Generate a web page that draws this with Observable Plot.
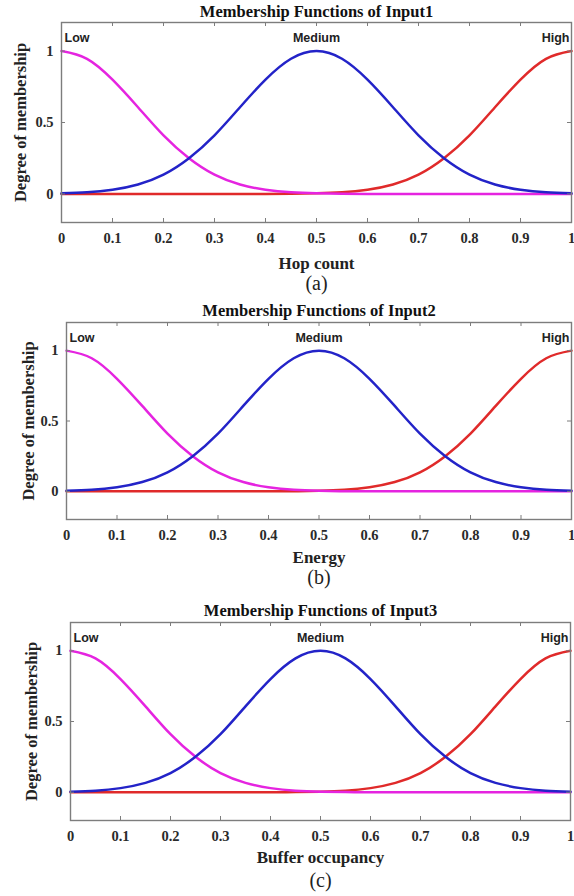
<!DOCTYPE html>
<html><head><meta charset="utf-8">
<script src="https://cdn.jsdelivr.net/npm/d3@7"></script>
<script src="https://cdn.jsdelivr.net/npm/@observablehq/plot@0.6"></script>
<style>
body{margin:0;background:#fff;width:574px;height:896px;overflow:hidden;position:relative}
.panel{position:absolute;left:0}
</style></head><body>
<script>
// ---- data ----
const xs = [0,0.05,0.1,0.15,0.2,0.25,0.3,0.35,0.4,0.45,0.5,0.55,0.6,0.65,0.7,0.75,0.8,0.85,0.9,0.95,1];
const lowValues    = [1.00,0.946,0.80,0.607,0.41,0.25,0.135,0.066,0.029,0.011,0.004,0.001,0,0,0,0,0,0,0,0,0];
const mediumValues = [0.004,0.011,0.029,0.066,0.135,0.25,0.41,0.607,0.80,0.946,1.00,0.946,0.80,0.607,0.41,0.25,0.135,0.066,0.029,0.011,0.004];
const highValues   = [0,0,0,0,0,0,0,0,0,0.001,0.004,0.011,0.029,0.066,0.135,0.25,0.41,0.607,0.80,0.946,1.00];
const mfNames = ["Low","Medium","High"];
const mfColors = ["#e524e0","#2323c8","#e02a2a"];
const xTicks = [0,0.1,0.2,0.3,0.4,0.5,0.6,0.7,0.8,0.9,1];
const xTickLabels = ["0","0.1","0.2","0.3","0.4","0.5","0.6","0.7","0.8","0.9","1"];
const yTicks = [0,0.5,1];
const yTickLabels = ["0","0.5","1"];
const titles = ["Membership Functions of Input1","Membership Functions of Input2","Membership Functions of Input3"];
const xLabels = ["Hop count","Energy","Buffer occupancy"];
const captions = ["(a)","(b)","(c)"];
const yLabel = "Degree of membership";

// ---- layout ----
const W = 574;
const tickLen = 4;
const layout = [
  {top:0,   height:300, marginLeft:61, marginRight:3, marginTop:22, marginBottom:78, titleDy:-11, xLabelDy:41, capDy:61, yLabelDx:-41},
  {top:300, height:297, marginLeft:66, marginRight:3, marginTop:22, marginBottom:78, titleDy:-12, xLabelDy:38, capDy:58, yLabelDx:-38},
  {top:600, height:296, marginLeft:70, marginRight:4, marginTop:22, marginBottom:76, titleDy:-12, xLabelDy:37, capDy:60, yLabelDx:-39}
];

const rows = [];
const series = [lowValues, mediumValues, highValues];
// draw order: High, Low, Medium
[2,0,1].forEach(k => xs.forEach((x,i) => rows.push({name: mfNames[k], x, y: series[k][i]})));
const peaks = mfNames.map((n,k) => ({name:n, x: xs[series[k].indexOf(d3.max(series[k]))], y: d3.max(series[k])}));
const peakAnchor = {Low: "start", Medium: "middle", High: "end"};
const peakDx = {Low: 3, Medium: 0, High: -2};

const serif = "'Liberation Serif','Times New Roman',serif";
const sans = "'Liberation Sans',Arial,sans-serif";
const frameColor = "#7d7d7d";
const fmt = (ticks, labels) => d => labels[ticks.findIndex(t => Math.abs(t - d) < 1e-9)];

layout.forEach((L, p) => {
  const fh = L.height - L.marginTop - L.marginBottom;
  const fw = W - L.marginLeft - L.marginRight;
  const chart = Plot.plot({
    width: W,
    height: L.height,
    marginLeft: L.marginLeft, marginRight: L.marginRight,
    marginTop: L.marginTop, marginBottom: L.marginBottom,
    style: {fontFamily: serif, background: "#fff", color: "#222", overflow: "visible"},
    x: {domain: [0, 1]},
    y: {domain: [-0.2, 1.2]},
    color: {domain: mfNames, range: mfColors},
    marks: [
      Plot.line(rows, {x: "x", y: "y", z: "name", stroke: "name", strokeWidth: 2.5, curve: "natural"}),
      // inward tick marks (MATLAB style) on all four sides
      Plot.tickX(xTicks, {x: d => d, insetBottom: fh - tickLen, stroke: frameColor, strokeWidth: 1}),
      Plot.tickX(xTicks, {x: d => d, insetTop: fh - tickLen, stroke: frameColor, strokeWidth: 1}),
      Plot.tickY(yTicks, {y: d => d, insetRight: fw - tickLen, stroke: frameColor, strokeWidth: 1}),
      Plot.tickY(yTicks, {y: d => d, insetLeft: fw - tickLen, stroke: frameColor, strokeWidth: 1}),
      Plot.frame({stroke: frameColor, strokeWidth: 1.4}),
      Plot.axisX({anchor: "bottom", ticks: xTicks, tickSize: 0, tickPadding: 10, tickFormat: fmt(xTicks, xTickLabels), label: null, fontSize: 14.5, fontWeight: "bold", fill: "#2a2a2a"}),
      Plot.axisY({anchor: "left", ticks: yTicks, tickSize: 0, tickPadding: 8, tickFormat: fmt(yTicks, yTickLabels), label: null, fontSize: 14.5, fontWeight: "bold", fill: "#2a2a2a"}),
      ...peaks.map(pk => Plot.text([pk], {x: "x", y: "y", text: "name", dy: -13, dx: peakDx[pk.name], textAnchor: peakAnchor[pk.name], fontFamily: sans, fontWeight: "bold", fontSize: 12.5, fill: "#222"})),
      Plot.text([titles[p]], {text: d => d, frameAnchor: "top", textAnchor: "middle", lineAnchor: "middle", dy: L.titleDy, fontFamily: serif, fontWeight: "bold", fontSize: 16.5, fill: "#111"}),
      Plot.text([xLabels[p]], {text: d => d, frameAnchor: "bottom", textAnchor: "middle", lineAnchor: "middle", dy: L.xLabelDy, fontFamily: serif, fontWeight: "bold", fontSize: 17, fill: "#222"}),
      Plot.text([captions[p]], {text: d => d, frameAnchor: "bottom", textAnchor: "middle", lineAnchor: "middle", dy: L.capDy, fontFamily: serif, fontSize: 20, fill: "#222"}),
      Plot.text([yLabel], {text: d => d, frameAnchor: "left", textAnchor: "middle", lineAnchor: "middle", dx: L.yLabelDx, rotate: -90, fontFamily: serif, fontWeight: "bold", fontSize: 16.5, fill: "#222"})
    ]
  });
  const div = document.createElement("div");
  div.className = "panel";
  div.style.top = L.top + "px";
  div.appendChild(chart);
  document.body.appendChild(div);
});
</script>
</body></html>
